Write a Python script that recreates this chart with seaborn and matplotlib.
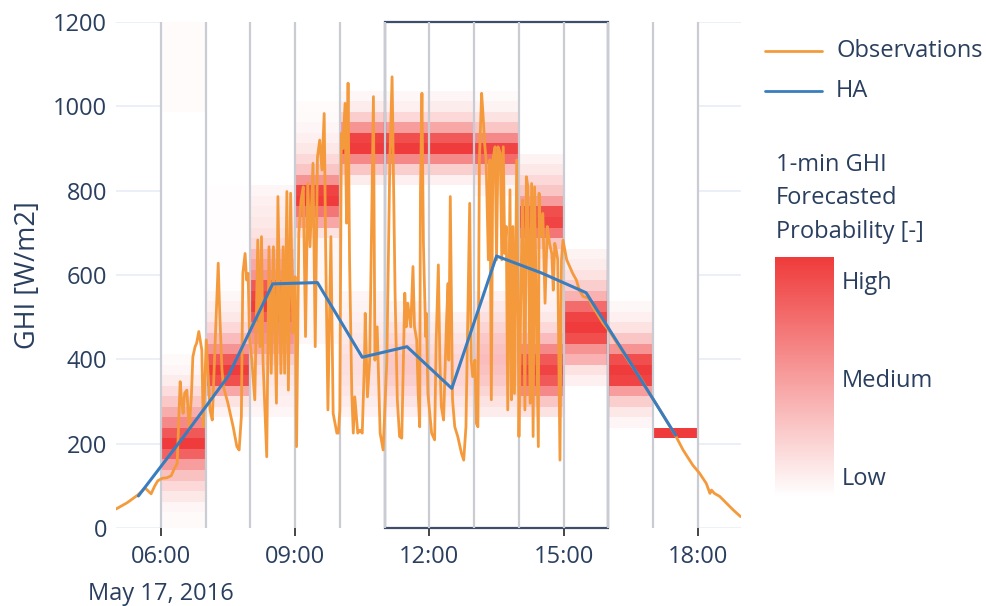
import numpy as np
import pandas as pd
import matplotlib
matplotlib.use("Agg")
import matplotlib.pyplot as plt
import seaborn as sns
from matplotlib.lines import Line2D
from matplotlib.patches import Rectangle
from matplotlib.colors import Normalize
from matplotlib.cm import ScalarMappable

# ---------------------------------------------------------------------------
# Data: 1-min GHI observations on May 17, 2016 (local time, W/m2)
# ---------------------------------------------------------------------------
obs_time = [
    "05:00", "05:15", "05:29", "05:39", "05:47", "05:52", "05:56", "06:02", "06:08", "06:14",
    "06:18", "06:22", "06:26", "06:28", "06:30", "06:32", "06:35", "06:38", "06:41", "06:43",
    "06:46", "06:48", "06:51", "06:55", "06:57", "07:01", "07:06", "07:09", "07:13", "07:17",
    "07:19", "07:22", "07:24", "07:30", "07:37", "07:42", "07:45", "07:48", "07:50", "07:53",
    "07:55", "07:57", "07:59", "08:02", "08:06", "08:10", "08:13", "08:15", "08:17", "08:22",
    "08:25", "08:28", "08:31", "08:35", "08:37", "08:41", "08:44", "08:46", "08:49", "08:51",
    "08:54", "08:57", "09:00", "09:02", "09:05", "09:08", "09:11", "09:14", "09:17", "09:20",
    "09:24", "09:27", "09:30", "09:33", "09:36", "09:39", "09:41", "09:44", "09:48", "09:51",
    "09:56", "09:58", "10:00", "10:02", "10:04", "10:07", "10:09", "10:11", "10:13", "10:16",
    "10:18", "10:20", "10:24", "10:27", "10:30", "10:33", "10:34", "10:37", "10:40", "10:45",
    "10:47", "10:50", "10:54", "10:58", "11:03", "11:07", "11:10", "11:14", "11:17", "11:20",
    "11:23", "11:27", "11:29", "11:31", "11:35", "11:38", "11:40", "11:43", "11:45", "11:47",
    "11:48", "11:50", "11:52", "11:55", "11:56", "11:58", "12:03", "12:07", "12:09", "12:12",
    "12:14", "12:16", "12:19", "12:23", "12:25", "12:26", "12:28", "12:31", "12:34", "12:38",
    "12:43", "12:46", "12:49", "12:52", "12:54", "12:56", "12:58", "13:01", "13:03", "13:05",
    "13:07", "13:10", "13:12", "13:14", "13:16", "13:19", "13:21", "13:23", "13:25", "13:28",
    "13:30", "13:32", "13:35", "13:37", "13:39", "13:41", "13:43", "13:45", "13:48", "13:50",
    "13:52", "13:54", "13:57", "13:59", "14:00", "14:03", "14:05", "14:08", "14:10", "14:12",
    "14:15", "14:17", "14:19", "14:21", "14:23", "14:26", "14:27", "14:29", "14:32", "14:35",
    "14:38", "14:41", "14:44", "14:46", "14:48", "14:50", "14:52", "14:55", "14:57", "14:59",
    "15:04", "15:08", "15:12", "15:17", "15:21", "15:26", "15:33", "15:39", "15:46", "15:53",
    "16:02", "16:15", "16:28", "16:42", "16:55", "17:09", "17:19", "17:29", "17:40", "17:53",
    "18:02", "18:11", "18:16", "18:18", "18:22", "18:29", "18:38", "18:47", "18:57",
]
obs_ghi = [
    45, 60, 78, 95, 81, 100, 112, 118, 119, 124,
    140, 153, 347, 300, 272, 320, 327, 232, 311, 406,
    430, 438, 466, 422, 240, 446, 280, 256, 446, 628,
    509, 375, 335, 296, 240, 193, 185, 264, 604, 651,
    588, 604, 450, 398, 304, 683, 430, 691, 398, 169,
    667, 367, 667, 296, 786, 367, 667, 367, 798, 327,
    794, 462, 596, 193, 699, 778, 809, 454, 817, 667,
    865, 430, 880, 920, 849, 983, 659, 280, 691, 272,
    225, 225, 280, 936, 900, 1007, 723, 1055, 636, 319,
    225, 311, 225, 232, 225, 398, 509, 311, 398, 1023,
    398, 477, 225, 185, 398, 873, 1070, 557, 304, 217,
    213, 557, 477, 533, 477, 620, 477, 446, 319, 240,
    794, 1031, 675, 454, 509, 319, 225, 209, 438, 624,
    398, 288, 256, 493, 580, 398, 786, 304, 240, 217,
    177, 161, 240, 557, 770, 398, 359, 398, 248, 240,
    873, 1031, 976, 912, 873, 636, 873, 304, 873, 904,
    636, 904, 889, 636, 904, 651, 715, 280, 802, 304,
    715, 319, 873, 477, 217, 612, 778, 280, 833, 809,
    296, 817, 217, 809, 557, 193, 794, 691, 746, 533,
    715, 675, 651, 564, 675, 659, 636, 161, 636, 683,
    636, 620, 604, 588, 564, 549, 545, 525, 505, 485,
    465, 428, 393, 358, 320, 280, 250, 222, 185, 149,
    130, 106, 82, 90, 82, 75, 59, 43, 27,
]

# Hourly HA forecast, valid at the middle of each hour
ha_time = ["05:30", "06:30", "07:30", "08:30", "09:30", "10:30", "11:30",
           "12:30", "13:30", "14:30", "15:30", "16:30", "17:30"]
ha_ghi = [76, 215, 359, 579, 582, 405, 430, 331, 645, 605, 558, 390, 220]

# Forecasted probability per hour: (lowest bin centre, relative probability of
# consecutive 25 W/m2 bins upwards from it)
bin_width = 25
prob_0600 = [(0, [0.03, 0.03, 0.05, 0.12, 0.2, 0.32, 0.5, 0.8, 1.0, 0.85, 0.6, 0.42,
                  0.28, 0.18, 0.1, 0.05, 0.03]),
             (1000, [0.02, 0.02, 0.02, 0.02, 0.02, 0.02, 0.02, 0.02, 0.02])]
prob_0700 = [(275, [0.06, 0.15, 0.45, 0.9, 1.0, 0.85, 0.55, 0.35, 0.2, 0.12, 0.08, 0.04]),
             (575, [0.015, 0.015, 0.015, 0.015, 0.015, 0.015, 0.015, 0.015, 0.015, 0.015])]
prob_0800 = [(275, [0.05, 0.08, 0.1, 0.13, 0.17, 0.25, 0.45, 0.55, 0.6, 0.85, 1.0, 0.95,
                    0.85, 0.55, 0.45, 0.35, 0.2, 0.15, 0.12, 0.1, 0.08, 0.05])]
prob_0900 = [(450, [0.04, 0.04, 0.04, 0.04, 0.04, 0.04, 0.04, 0.04, 0.04]),
             (675, [0.05, 0.15, 0.45, 0.7, 1.0, 0.95, 0.55, 0.3, 0.2, 0.12, 0.08, 0.05,
                    0.03, 0.02])]
prob_1000 = [(275, [0.07, 0.1, 0.13, 0.15, 0.16, 0.16, 0.14, 0.12, 0.1, 0.08, 0.06, 0.05]),
             (825, [0.1, 0.3, 0.6, 1.0, 0.95, 0.55, 0.25, 0.1, 0.04])]
prob_1100 = [(275, [0.08, 0.14, 0.2, 0.25, 0.28, 0.28, 0.25, 0.2, 0.15, 0.1, 0.06]),
             (825, [0.08, 0.25, 0.6, 1.0, 0.9, 0.5, 0.2, 0.08, 0.04])]
prob_1200 = [(275, [0.08, 0.13, 0.18, 0.21, 0.22, 0.21, 0.18, 0.14, 0.1, 0.06]),
             (825, [0.08, 0.25, 0.6, 1.0, 0.85, 0.45, 0.2, 0.1, 0.05])]
prob_1300 = [(275, [0.1, 0.15, 0.22, 0.28, 0.32, 0.34, 0.32, 0.28, 0.22, 0.16, 0.11, 0.07]),
             (800, [0.05, 0.12, 0.35, 0.75, 0.95, 0.6, 0.3, 0.15, 0.06, 0.03])]
prob_1400 = [(275, [0.15, 0.3, 0.6, 0.85, 0.95, 0.85, 0.6, 0.35, 0.2, 0.12, 0.08, 0.07,
                    0.07, 0.08, 0.1, 0.15, 0.3, 0.7, 0.95, 0.9, 0.5, 0.3, 0.2, 0.12, 0.06])]
prob_1500 = [(350, [0.08, 0.15, 0.4, 0.55, 0.9, 1.0, 0.95, 0.75, 0.4, 0.25, 0.15, 0.1, 0.06])]
prob_1600 = [(250, [0.05, 0.12, 0.25, 0.5, 0.95, 1.0, 0.9, 0.55, 0.3, 0.15, 0.08, 0.04])]
prob_1700 = [(225, [1.0])]

forecast_hours = [6, 7, 8, 9, 10, 11, 12, 13, 14, 15, 16, 17]
forecast_profiles = [prob_0600, prob_0700, prob_0800, prob_0900, prob_1000, prob_1100,
                     prob_1200, prob_1300, prob_1400, prob_1500, prob_1600, prob_1700]

colorbar_labels = ["Low", "Medium", "High"]
colorbar_levels = [0.0875, 0.496, 0.904]


def clock_to_hours(s):
    h, m = s.split(":")
    return int(h) + int(m) / 60.0


# ---------------------------------------------------------------------------
# Styling
# ---------------------------------------------------------------------------
sns.set_theme(style="white")
plt.rcParams["font.family"] = ["Open Sans", "DejaVu Sans"]
TEXT = "#2a3f5f"
GRID = "#ebf0f8"
VLINE = "#c9ccd3"
ORANGE = "#f59a3c"
BLUE = "#3a7dbf"
FS = 17

cmap = sns.blend_palette(["#ffffff", "#ef3b3b"], as_cmap=True)

obs = pd.DataFrame({"hour": [clock_to_hours(t) for t in obs_time], "ghi": obs_ghi})
ha = pd.DataFrame({"hour": [clock_to_hours(t) for t in ha_time], "ghi": ha_ghi})

# probability grid: rows = GHI bin centres, columns = forecast hours
centres = np.arange(0, 1200 + bin_width, bin_width)
grid = np.zeros((len(centres), len(forecast_hours)))
for j, profile in enumerate(forecast_profiles):
    for start, values in profile:
        i0 = start // bin_width
        for k, v in enumerate(values):
            grid[i0 + k, j] = v
y_edges = np.concatenate([centres - bin_width / 2, [centres[-1] + bin_width / 2]])
x_edges = np.array(forecast_hours + [forecast_hours[-1] + 1], dtype=float)

W, H = 986, 606
fig = plt.figure(figsize=(W / 100, H / 100), dpi=100)
ax = fig.add_axes([116 / W, 1 - 528 / H, (741 - 116) / W, (528 - 22) / H])
ax.set_xlim(5.0, 18.96)
ax.set_ylim(0, 1200)

# horizontal grid
for yv in range(0, 1201, 200):
    ax.axhline(yv, color=GRID, lw=2.0 if yv == 0 else 1.4, zorder=0)

# probability heatmap
ax.pcolormesh(x_edges, y_edges, grid, cmap=cmap, vmin=0, vmax=1, zorder=1,
              shading="flat", linewidth=0, antialiased=False)

# highlighted window 11:00-16:00
ax.add_patch(Rectangle((11, 0), 5, 1200, fill=False, edgecolor="#3e4d69", lw=1.6,
                       zorder=2.4, clip_on=False))
for hr in range(6, 19):
    ax.axvline(hr, color=VLINE, lw=1.6, zorder=2.5)

sns.lineplot(data=obs, x="hour", y="ghi", ax=ax, color=ORANGE, lw=2.0,
             estimator=None, sort=False, legend=False, zorder=3)
sns.lineplot(data=ha, x="hour", y="ghi", ax=ax, color=BLUE, lw=2.2,
             estimator=None, sort=False, legend=False, zorder=4)

for s in ax.spines.values():
    s.set_visible(False)
ax.grid(False)
ax.set_xlabel("")
ax.set_ylabel("")
ax.set_xticks([6, 9, 12, 15, 18])
ax.set_xticklabels(["06:00", "09:00", "12:00", "15:00", "18:00"])
ax.set_yticks(range(0, 1201, 200))
ax.tick_params(axis="x", direction="out", length=6, width=1.4, color="#444444",
               pad=6, labelsize=FS, labelcolor=TEXT, bottom=True)
ax.tick_params(axis="y", length=0, pad=6.5, labelsize=FS, labelcolor=TEXT)

fig.text(161 / W, 1 - 594 / H, "May 17, 2016", ha="center", va="center",
         fontsize=FS, color=TEXT)
fig.text(28 / W, 1 - 275 / H, "GHI [W/m2]", ha="center", va="center",
         rotation=90, fontsize=19.5, color=TEXT)

# legend
for yy, col, lab in [(51, ORANGE, "Observations"), (91, BLUE, "HA")]:
    fig.add_artist(Line2D([765 / W, 822 / W], [1 - yy / H, 1 - yy / H],
                          transform=fig.transFigure, color=col, lw=2.0))
    fig.text(836 / W, 1 - yy / H, lab, ha="left", va="center", fontsize=FS, color=TEXT)

# colorbar
for yy, line in [(165, "1-min GHI"), (198, "Forecasted"), (232, "Probability [-]")]:
    fig.text(776 / W, 1 - yy / H, line, ha="left", va="center", fontsize=FS, color=TEXT)
cax = fig.add_axes([775 / W, 1 - 497 / H, 59 / W, 240 / H])
cb = fig.colorbar(ScalarMappable(norm=Normalize(0, 1), cmap=cmap), cax=cax)
cb.outline.set_visible(False)
cb.set_ticks(colorbar_levels)
cb.set_ticklabels(colorbar_labels)
cax.tick_params(length=0, pad=5.5, labelsize=FS, labelcolor=TEXT)

fig.savefig("out.png", dpi=100)
